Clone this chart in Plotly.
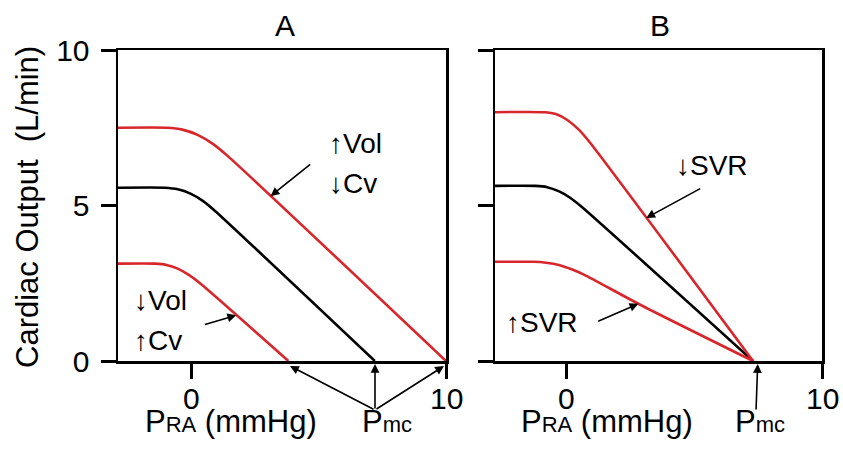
import plotly.graph_objects as go

W, H = 843, 450
FONT = "Liberation Sans, Arial, Helvetica, sans-serif"
RED = "#d8262a"

# ---- data ----
# Panel A (changes in volume / venous compliance)
a_base_x = [-2.9, -1.05, -0.55, -0.05, 0.45, 0.95, 7.2]
a_base_y = [5.57, 5.57, 5.52, 5.38, 5.14, 4.80, 0.0]
a_up_x = [-2.9, -0.97, -0.37, 0.23, 0.83, 1.43, 10.0]
a_up_y = [7.5, 7.5, 7.44, 7.27, 6.98, 6.58, 0.0]
a_dn_x = [-2.9, -1.45, -1.0, -0.55, -0.1, 0.35, 3.8]
a_dn_y = [3.13, 3.13, 3.09, 2.97, 2.76, 2.48, 0.0]
# Panel B (changes in systemic vascular resistance)
b_base_x = [-2.8, -1.21, -0.76, -0.31, 0.14, 0.59, 7.3]
b_base_y = [5.63, 5.63, 5.59, 5.46, 5.25, 4.96, 0.0]
b_up_x = [-2.8, -0.87, -0.42, 0.03, 0.48, 0.93, 7.3]
b_up_y = [8.0, 8.0, 7.94, 7.75, 7.44, 7.01, 0.0]
b_dn_x = [-2.8, -1.3, -0.8, -0.3, 0.2, 0.7, 2.9, 7.3]
b_dn_y = [3.19, 3.19, 3.16, 3.09, 2.95, 2.77, 1.8, 0.0]

y_ticks = [0, 5, 10]
y_tick_text = ["0", "5", "10"]
x_ticks = [0, 10]
x_tick_text = ["0", "10"]
panel_titles = ["A", "B"]


def px(x):
    return x / W


def py(y):
    return 1 - y / H


fig = go.Figure()


def line(x, y, color, xa, ya):
    fig.add_trace(go.Scatter(x=x, y=y, mode="lines", xaxis=xa, yaxis=ya,
                             line=dict(color=color, width=2.6, shape="spline", smoothing=0.6),
                             hoverinfo="skip", showlegend=False))


line(a_base_x, a_base_y, "black", "x", "y")
line(a_up_x, a_up_y, RED, "x", "y")
line(a_dn_x, a_dn_y, RED, "x", "y")
line(b_base_x, b_base_y, "black", "x2", "y2")
line(b_up_x, b_up_y, RED, "x2", "y2")
line(b_dn_x, b_dn_y, RED, "x2", "y2")

ydom = [py(361), py(50)]
axis_common = dict(showline=True, linecolor="black", linewidth=2.5, mirror=True,
                   showgrid=False, zeroline=False, ticks="outside", ticklen=15,
                   tickwidth=3, tickcolor="black", automargin=False,
                   tickfont=dict(family=FONT, size=30, color="black"))

fig.update_layout(
    width=W, height=H, margin=dict(l=0, r=0, t=0, b=0, pad=0, autoexpand=False),
    paper_bgcolor="white", plot_bgcolor="white",
    font=dict(family=FONT, size=30, color="black"),
    xaxis=dict(domain=[px(118), px(446)], range=[-2.9, 10], tickvals=x_ticks,
               showticklabels=False, anchor="y", **axis_common),
    yaxis=dict(domain=ydom, range=[0, 10], tickvals=y_ticks, ticktext=y_tick_text,
               anchor="x", ticklabelstandoff=5, **axis_common),
    xaxis2=dict(domain=[px(495), px(822)], range=[-2.8, 10], tickvals=x_ticks,
                showticklabels=False, anchor="y2", **axis_common),
    yaxis2=dict(domain=ydom, range=[0, 10], tickvals=y_ticks, showticklabels=False,
                anchor="x2", **axis_common),
)

ann = []


def text(x, y, s, size=30, xanchor="center", angle=0):
    ann.append(dict(x=px(x), y=py(y), xref="paper", yref="paper", text=s,
                    showarrow=False, xanchor=xanchor, yanchor="middle",
                    textangle=angle, font=dict(family=FONT, size=size, color="black")))


def dtext(x, y, s, xr, yr, size=28):
    ann.append(dict(x=x, y=y, xref=xr, yref=yr, text=s, showarrow=False,
                    xanchor="left", yanchor="middle",
                    font=dict(family=FONT, size=size, color="black")))


# x tick labels (placed at the tick values of each x axis)
for xr in ["x", "x2"]:
    for v, t in zip(x_ticks, x_tick_text):
        ann.append(dict(x=v, y=py(398), xref=xr, yref="paper", text=t,
                        showarrow=False, xanchor="center", yanchor="middle",
                        font=dict(family=FONT, size=30, color="black")))

# titles
text(285, 25, panel_titles[0])
text(660, 25, panel_titles[1])
# y axis title
text(28, 207, "Cardiac Output \u00a0(L/min)", size=31, angle=-90)
# x axis titles
sm = "<span style='font-size:22px'>%s</span>"
text(231, 421, "P" + sm % "RA" + " (mmHg)", size=31)
text(607, 421, "P" + sm % "RA" + " (mmHg)", size=31)
text(387, 421, "P" + sm % "mc", size=31)
text(760, 421, "P" + sm % "mc", size=31)

# labels inside panels (data coordinates)
dtext(5.3, 7.0, "\u2191Vol", "x", "y")
dtext(5.3, 5.7, "\u2193Cv", "x", "y")
dtext(-2.35, 1.94, "\u2193Vol", "x", "y")
dtext(-2.35, 0.67, "\u2191Cv", "x", "y")
dtext(4.2, 6.3, "\u2193SVR", "x2", "y2")
dtext(-2.45, 1.23, "\u2191SVR", "x2", "y2")


def darrow(x, y, ax, ay, xr, yr):
    ann.append(dict(x=x, y=y, xref=xr, yref=yr, ax=ax, ay=ay, axref=xr, ayref=yr,
                    text="", showarrow=True, arrowhead=2, arrowsize=1.1,
                    arrowwidth=1.6, arrowcolor="black", standoff=0, startstandoff=0))


darrow(3.1, 5.30, 4.72, 6.36, "x", "y")
darrow(1.75, 1.47, 0.46, 1.16, "x", "y")
darrow(3.12, 4.6, 5.29, 5.57, "x2", "y2")
darrow(2.81, 1.84, 1.18, 1.26, "x2", "y2")


def arrow(tipx, tipy, tailx, taily):
    ann.append(dict(x=px(tipx), y=py(tipy), xref="paper", yref="paper", text="",
                    showarrow=True, ax=tailx - tipx, ay=taily - tipy,
                    arrowhead=2, arrowsize=1.1, arrowwidth=1.6, arrowcolor="black",
                    standoff=0, startstandoff=0))


# Pmc arrows
arrow(290, 366, 375, 410)
arrow(375, 364, 375, 410)
arrow(444, 366, 375, 410)
arrow(757.7, 364, 756, 411)

fig.update_layout(annotations=ann)
fig.write_html("out.html",
               config={"displayModeBar": False, "staticPlot": True},
               post_script="document.body.style.margin='0px';"
                           "document.body.style.overflow='hidden';")
